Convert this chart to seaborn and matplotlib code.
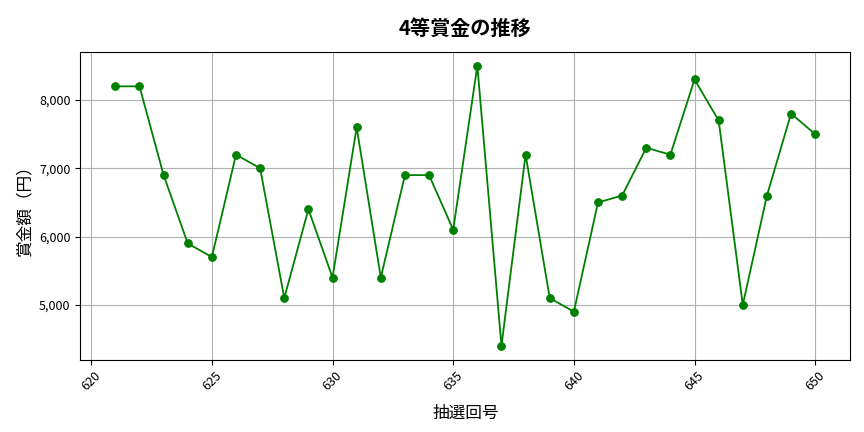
import pandas as pd
import matplotlib.pyplot as plt
import matplotlib.ticker as mticker
import seaborn as sns

draws = list(range(621, 651))
prizes = [8200, 8200, 6900, 5900, 5700, 7200, 7000, 5100, 6400, 5400,
          7600, 5400, 6900, 6900, 6100, 8500, 4400, 7200, 5100, 4900,
          6500, 6600, 7300, 7200, 8300, 7700, 5000, 6600, 7800, 7500]

df = pd.DataFrame({"draw": draws, "prize": prizes})

sns.set_style("ticks")
plt.rcParams['font.family'] = ['Noto Sans CJK JP', 'DejaVu Sans']
plt.rcParams.update({'text.color': 'black', 'axes.labelcolor': 'black',
                     'xtick.color': 'black', 'ytick.color': 'black',
                     'axes.edgecolor': 'black'})

fig, ax = plt.subplots(figsize=(8.64, 4.32), dpi=100)
sns.lineplot(data=df, x="draw", y="prize", color="green", marker="o",
             markersize=5.5, markeredgecolor="green", linewidth=1.3, ax=ax)

ax.set_title("4等賞金の推移", fontsize=14.5, fontweight="bold", pad=12)
ax.set_xlabel("抽選回号", fontsize=12, labelpad=8)
ax.set_ylabel("賞金額（円）", fontsize=12)
ax.yaxis.set_major_formatter(mticker.StrMethodFormatter("{x:,.0f}"))
ax.tick_params(labelsize=9)
plt.xticks(rotation=45)
ax.grid(True, color="#b0b0b0", linewidth=0.8)

fig.subplots_adjust(left=0.093, right=0.984, top=0.88, bottom=0.167)
fig.savefig("out.png", dpi=100)
